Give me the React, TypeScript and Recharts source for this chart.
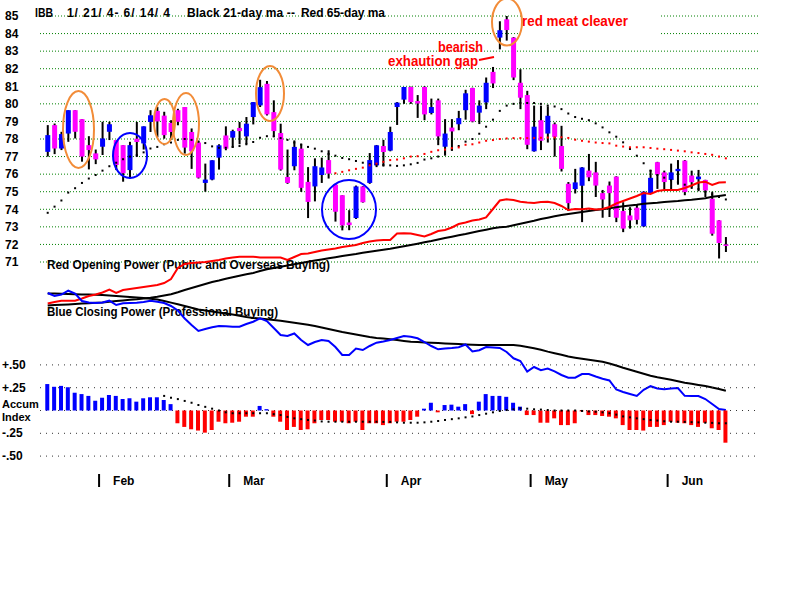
import React from "react";
import { ComposedChart, Bar, Line, XAxis, YAxis, CartesianGrid, Cell } from "recharts";

// IBB daily candles, 1/21/04 - 6/14/04
const opens = [
  77.27, 78.79, 77.46, 78.31, 79.64, 79.13, 77.65, 77.18, 77.56, 78.41,
  77.94, 77.65, 76.23, 78.02, 77.75, 78.97, 79.6, 79.33, 78.92, 79.64,
  79.82, 78.4, 77.8, 75.5, 75.69, 76.94, 78.2, 78.08, 78.63, 78.15,
  79.25, 79.91, 81.14, 79.53, 78.34, 75.84, 76.45, 77.45, 75.56, 75.3,
  75.95, 76.8, 75.4, 74.8, 73.25, 73.5, 75.3, 75.5, 76.5, 77.6,
  77.34, 79.82, 80.24, 80.96, 80.16, 80.96, 79.48, 80.2, 77.56, 78.65,
  78.84, 79.64, 80.9, 79.5, 80.08, 81.82, 83.77, 84.81, 83.77, 81.2,
  80.5, 77.3, 79.07, 78.31, 78.84, 77.6, 75.45, 75.15, 75.34, 76.2,
  76.1, 74.92, 75.35, 75.86, 73.9, 73.65, 74.09, 73.03, 74.92, 76.68,
  76.1, 75.67, 76.17, 76.77, 75.92, 75.71, 75.67, 74.6, 73.37, 72.0,
];
const highs = [
  78.79, 78.88, 78.41, 79.64, 79.64, 79.13, 78.16, 77.4, 78.98, 78.98,
  77.94, 77.65, 77.84, 78.97, 78.72, 79.64, 79.83, 79.55, 79.07, 79.72,
  79.82, 78.6, 77.9, 76.6, 76.79, 77.7, 78.72, 78.53, 78.97, 79.25,
  80.1, 81.37, 81.3, 80.2, 78.87, 77.4, 77.92, 77.73, 76.4, 76.9,
  76.94, 77.36, 75.45, 74.8, 73.95, 75.35, 75.32, 77.2, 77.66, 77.95,
  78.7, 80.1, 80.96, 80.98, 80.5, 81.0, 80.3, 80.3, 79.13, 79.13,
  79.6, 80.8, 80.92, 80.2, 81.5, 82.1, 84.7, 85.0, 83.8, 81.97,
  80.74, 79.9, 79.9, 79.85, 78.94, 78.75, 75.55, 76.3, 76.4, 77.15,
  76.7, 75.1, 75.58, 75.88, 74.4, 74.12, 74.3, 75.02, 76.24, 76.7,
  76.2, 76.6, 76.8, 76.8, 76.2, 76.24, 75.68, 75.0, 73.38, 72.42,
];
const lows = [
  77.0, 77.14, 77.37, 77.84, 78.03, 76.71, 76.27, 76.57, 77.09, 77.94,
  76.23, 75.57, 75.76, 76.98, 77.4, 78.4, 78.1, 78.02, 77.95, 78.78,
  77.17, 76.3, 75.75, 75.0, 75.65, 76.26, 77.36, 77.5, 77.7, 77.7,
  78.83, 79.82, 79.34, 78.11, 76.2, 75.45, 76.22, 74.99, 73.5, 74.45,
  75.5, 75.75, 73.3, 72.8, 72.81, 73.45, 74.38, 75.45, 76.4, 76.43,
  77.3, 78.8, 80.0, 80.0, 79.2, 79.07, 79.4, 77.65, 77.05, 77.33,
  78.5, 79.1, 78.95, 78.85, 79.7, 80.9, 83.1, 83.6, 81.35, 79.7,
  77.42, 77.28, 77.37, 77.8, 77.0, 76.15, 73.9, 74.9, 73.27, 75.6,
  74.7, 73.52, 73.56, 73.27, 72.7, 72.9, 73.14, 73.0, 74.9, 75.16,
  75.1, 75.1, 75.4, 74.8, 75.16, 75.03, 74.7, 72.5, 71.2, 71.57,
];
const closes = [
  78.22, 77.46, 78.28, 79.64, 78.41, 77.0, 77.37, 76.84, 78.03, 78.84,
  76.52, 76.05, 77.65, 77.83, 78.72, 79.35, 79.0, 78.22, 78.4, 78.98,
  77.51, 77.3, 75.8, 75.69, 76.79, 77.64, 77.45, 78.45, 78.45, 78.87,
  80.1, 80.95, 79.4, 78.45, 76.26, 75.5, 77.55, 75.22, 74.42, 76.45,
  76.38, 76.03, 73.86, 73.08, 73.1, 75.3, 74.4, 76.8, 77.64, 77.26,
  78.4, 80.07, 80.96, 80.1, 80.02, 79.4, 79.82, 78.15, 78.31, 78.43,
  79.19, 80.6, 79.0, 79.9, 81.2, 81.16, 84.19, 84.2, 81.5, 80.35,
  77.67, 78.7, 77.9, 79.32, 78.12, 76.3, 74.35, 75.53, 76.38, 75.82,
  75.35, 74.56, 74.92, 73.52, 72.9, 73.37, 73.4, 75.0, 75.79, 75.98,
  75.55, 76.1, 76.3, 74.98, 75.54, 75.86, 75.07, 72.61, 72.08, 71.96,
];

// moving averages (dotted)
const ma21 = [
  73.8, 74.15, 74.5, 74.95, 75.2, 75.5, 75.75, 75.95, 76.2, 76.45,
  76.65, 76.85, 77.0, 77.08, 77.24, 77.46, 77.55, 77.7, 77.8, 77.95,
  78.0, 77.95, 77.85, 77.77, 77.58, 77.5, 77.5, 77.55, 77.6, 77.7,
  77.83, 78.07, 78.16, 78.15, 78.05, 77.95, 77.8, 77.68, 77.55, 77.45,
  77.3, 77.15, 77.05, 76.92, 76.85, 76.75, 76.65, 76.57, 76.55, 76.52,
  76.5, 76.47, 76.5, 76.56, 76.64, 76.83, 76.9, 77.0, 77.2, 77.4,
  77.6, 77.85, 78.0, 78.3, 78.7, 79.1, 79.6, 79.9, 80.0, 80.05,
  80.05, 80.05, 80.0, 79.9, 79.85, 79.7, 79.45, 79.25, 79.15, 79.07,
  78.89, 78.66, 78.38, 78.13, 77.81, 77.43, 77.05, 76.62, 76.2, 75.95,
  75.8, 75.65, 75.54, 75.4, 75.3, 75.15, 75.0, 74.85, 74.7, 74.56,
];
const ma65 = [
  ...Array(42).fill(null),
  76.05, 76.13, 76.22, 76.3, 76.37, 76.5, 76.6, 76.7,
  76.8, 76.83, 76.9, 77.0, 77.02, 77.15, 77.27, 77.36, 77.4, 77.48,
  77.52, 77.67, 77.7, 77.8, 77.9, 77.94, 78.0, 78.03, 78.05, 78.05,
  78.05, 78.06, 78.07, 78.08, 78.09, 78.1, 78.06, 77.96, 77.9, 77.85,
  77.8, 77.77, 77.75, 77.62, 77.57, 77.53, 77.53, 77.53, 77.49, 77.45,
  77.42, 77.38, 77.34, 77.3, 77.24, 77.2, 77.15, 77.1, 77.0, 76.9,
];

// opening / closing power (index units)
const openPower = [
  116.5, 118, 119.3, 119.3, 119.3, 121.5, 124, 125.5, 127.5, 130.5,
  127, 130, 131, 132, 133, 134, 135, 137, 141, 152,
  156, 157, 157.5, 158, 159, 160, 161.5, 162.5, 163.3, 163.3,
  163.3, 162.5, 162.5, 162.5, 162.5, 160, 163, 166, 166.5, 168,
  169.5, 170.5, 171.5, 173, 174, 175, 177, 178.5, 179.5, 180,
  180, 186.5, 186.7, 186.5, 185, 183.5, 186, 189, 190, 192.5,
  196, 197.5, 199.5, 200.5, 202.5, 211, 219.5, 220.7, 220, 218.3,
  217.5, 217, 218, 218.3, 217, 214, 210, 211, 210.7, 211.5,
  210.5, 211, 213, 216.5, 219, 221.5, 224, 227, 226, 229,
  230, 230, 230, 232, 234.5, 237.5, 238.3, 235, 237.5, 237.7,
];
const openPowerMa = [
  114.4, 115, 115.3, 115.6, 116, 116.5, 116.8, 117.2, 117.5, 118.2,
  119, 119.6, 120.2, 120.7, 121.4, 122.2, 123.2, 124.5, 125.8, 127.8,
  130, 132, 134, 136, 138, 139.5, 141.2, 142.7, 144.2, 145.7,
  147, 149, 150.7, 152, 153.2, 154.5, 155.7, 157, 158.2, 159.4,
  160.5, 161.7, 162.8, 164, 165, 166, 167.2, 168.3, 169.3, 170.3,
  171.3, 172.5, 173.8, 175, 176.3, 177.7, 179, 180.5, 182, 183.3,
  184.7, 186, 187.5, 189, 190.3, 191.7, 192.7, 193.3, 194.7, 196.2,
  197.7, 199.2, 201, 202.3, 203.7, 205, 206, 207, 208, 209,
  210, 210.8, 211.8, 212.8, 213.7, 214.5, 215.3, 216.3, 216.8, 217.3,
  218, 218.5, 219, 219.8, 220.3, 221, 221.8, 223.2, 224.1, 225,
];
const closePower = [
  127, 124, 125.5, 129.3, 126.5, 119, 117.5, 117, 117.5, 119.3,
  115, 116.7, 117, 117.3, 118, 119.3, 118.3, 117, 114, 109.5,
  101.5, 95, 89, 91, 92.7, 94, 93.7, 93.3, 93.3, 96,
  98.3, 101.7, 99, 92, 85, 84, 86.5, 80, 75, 78,
  80, 79, 73, 65, 65, 71.5, 70, 74, 77.3, 78.5,
  80, 82, 84, 83.2, 81.7, 78, 74, 70.7, 71.5, 72,
  72.7, 75.5, 68.5, 69.8, 73, 72.5, 72, 68, 61.7, 59,
  48.5, 53, 49.8, 51.5, 48.7, 45, 42.3, 42.3, 46, 46,
  43.5, 41.3, 39.5, 30.5, 28, 26, 24, 30.2, 33.8, 31.5,
  30.7, 31.5, 32, 24.2, 24, 24, 21, 16, 11, 10,
];
const closePowerMa = [
  126.5, 126.4, 126.2, 126, 125.8, 125.6, 125.4, 125.2, 125, 124.6,
  124.1, 123.6, 123.1, 122.6, 122, 121.2, 120.5, 119, 117.4, 115.8,
  114, 112.2, 110.6, 109.6, 108.6, 107.6, 106.6, 105.5, 104.3, 103,
  102, 101.4, 100.8, 100.1, 99.3, 98.3, 97.3, 96.2, 95.2, 94,
  92.5, 91, 89.5, 88, 86.7, 85.4, 84.2, 83, 82, 81.4,
  80.7, 79.9, 79.1, 78.3, 77.9, 77.6, 77.3, 76.9, 76.6, 76.3,
  76, 75.6, 75.3, 75, 75, 75, 75, 75, 75, 74.2,
  73, 71.8, 70.2, 68.4, 66.8, 65.2, 63.5, 62.3, 61.2, 60.2,
  59.2, 58.2, 56.5, 54.5, 52.3, 50.3, 48.3, 46.3, 44.2, 42.7,
  41.5, 40.2, 38.8, 37.3, 36.2, 35.1, 34, 32.5, 31, 29.3,
];

// accumulation index
const accum = [
  0.29, 0.26, 0.27, 0.255, 0.195, 0.18, 0.16, 0.107, 0.14, 0.17,
  0.16, 0.126, 0.134, 0.097, 0.134, 0.145, 0.145, 0.115, 0.07, -0.14,
  -0.18, -0.206, -0.22, -0.243, -0.214, -0.123, -0.14, -0.134, -0.123, -0.068,
  -0.068, 0.05, 0.015, -0.068, -0.123, -0.214, -0.18, -0.214, -0.206, -0.14,
  -0.104, -0.104, -0.123, -0.123, -0.14, -0.123, -0.214, -0.14, -0.14, -0.16,
  -0.14, -0.123, -0.123, -0.104, -0.068, 0.02, 0.085, -0.02, 0.06, 0.064,
  0.042, 0.07, -0.04, 0.097, 0.18, 0.16, 0.16, 0.15, 0.085, 0.042,
  -0.05, -0.05, -0.134, -0.134, -0.086, -0.16, -0.16, -0.14, -0.01, -0.05,
  -0.05, -0.06, -0.068, -0.086, -0.16, -0.214, -0.214, -0.22, -0.18, -0.18,
  -0.16, -0.123, -0.134, -0.14, -0.16, -0.18, -0.134, -0.195, -0.214, -0.353,
];
const accumMa = [
  ...Array(17).fill(null),
  0.16, 0.14, 0.125,
  0.105, 0.085, 0.06, 0.04, 0.02, 0.0, -0.02, -0.03, -0.03, -0.03,
  -0.03, -0.03, -0.03, -0.04, -0.05, -0.07, -0.086, -0.095, -0.104, -0.11,
  -0.12, -0.123, -0.123, -0.123, -0.123, -0.123, -0.123, -0.123, -0.123, -0.125,
  -0.125, -0.13, -0.134, -0.134, -0.134, -0.13, -0.123, -0.115, -0.104, -0.095,
  -0.086, -0.075, -0.065, -0.05, -0.035, -0.02, -0.005, 0.005, 0.013, 0.024,
  0.02, 0.013, 0.01, 0.005, 0, 0, 0, 0, -0.005, -0.01,
  -0.013, -0.02, -0.03, -0.045, -0.065, -0.075, -0.086, -0.095, -0.105, -0.11,
  -0.118, -0.123, -0.123, -0.125, -0.128, -0.13, -0.134, -0.136, -0.14, -0.14,
];

const priceTicks = [85, 84, 83, 82, 81, 80, 79, 78, 77, 76, 75, 74, 73, 72, 71];
const accumTicks = [0.5, 0.25, 0, -0.25, -0.5];
const accumLabels = ["+.50", "+.25", "", "-.25", "-.50"];
const monthTicks = [7.5, 26.5, 49.5, 70.5, 90.5];
const monthLabels = ["Feb", "Mar", "Apr", "May", "Jun"];

const data = opens.map((open, i) => ({
  i,
  open,
  high: highs[i],
  low: lows[i],
  close: closes[i],
  ma21: ma21[i],
  ma65: ma65[i],
  openPower: openPower[i],
  openPowerMa: openPowerMa[i],
  closePower: closePower[i],
  closePowerMa: closePowerMa[i],
  accum: accum[i],
  accumMa: accumMa[i],
}));

const xDomain = [-1.124, 103.985];
const FONT = '"Liberation Sans", Arial, sans-serif';
const BLUE = "#0000ff";
const MAGENTA = "#ff00ff";
const RED = "#ff0000";
const ORANGE = "#f28c38";

const Candle = (props: any) => {
  const { x, y, width, height, payload } = props;
  if (x == null || !payload) return null;
  const top = Math.min(y, y + height);
  const h = Math.abs(height);
  const k = h / (payload.high - payload.low);
  const cx = x + width / 2;
  const yo = top + (payload.high - payload.open) * k;
  const yc = top + (payload.high - payload.close) * k;
  const up = payload.close >= payload.open;
  const bodyTop = Math.min(yo, yc);
  const bodyH = Math.max(1.5, Math.abs(yo - yc));
  return (
    <g>
      <rect x={cx - 1} y={top} width={2} height={h} fill="#000" />
      <rect x={cx - 2.5} y={bodyTop} width={5} height={bodyH} fill={up ? BLUE : MAGENTA} />
    </g>
  );
};

const squareDot = (color: string) => (props: any) => {
  const { cx, cy, index } = props;
  if (cx == null || cy == null || Number.isNaN(cy)) return <g key={`n${index}`} />;
  return <rect key={`d${index}`} x={cx - 1} y={cy - 1} width={2} height={2} fill={color} />;
};

const PriceTick = (props: any) => {
  const { y, payload } = props;
  return (
    <text x={5} y={y + 4.3} fontSize={12} fontWeight="bold" fontFamily={FONT} fill="#000">
      {payload.value}
    </text>
  );
};

const AccumTick = (props: any) => {
  const { y, payload, index } = props;
  if (payload.value === 0) {
    return (
      <g>
        <text x={2} y={y - 2.5} fontSize={11} fontWeight="bold" fontFamily={FONT} fill="#000">Accum</text>
        <text x={2} y={y + 10.5} fontSize={11} fontWeight="bold" fontFamily={FONT} fill="#000">Index</text>
      </g>
    );
  }
  return (
    <text x={2} y={y + 4} fontSize={12} fontWeight="bold" fontFamily={FONT} fill="#000">
      {accumLabels[index]}
    </text>
  );
};

const MonthTick = (props: any) => {
  const { x, payload } = props;
  const idx = monthTicks.indexOf(payload.value);
  return (
    <g>
      <line x1={x} x2={x} y1={474} y2={487} stroke="#000" strokeWidth={2} />
      <text x={x + 14} y={485} fontSize={12} fontWeight="bold" fontFamily={FONT} fill="#000">
        {monthLabels[idx]}
      </text>
    </g>
  );
};

const layer: React.CSSProperties = { position: "absolute", left: 0, top: 0 };
const txt = { fontFamily: FONT, fontWeight: "bold" as const, fontSize: 12 };

export default function App() {
  return (
    <div style={{ position: "absolute", left: 0, top: 0, width: 800, height: 600, background: "#fff" }}>
      {/* price panel */}
      <div style={layer}>
        <ComposedChart width={800} height={600} data={data} margin={{ top: 16, right: 40, bottom: 338, left: 0 }}>
          <CartesianGrid vertical={false} horizontalValues={priceTicks} stroke="#008000" strokeDasharray="1 2" />
          <XAxis dataKey="i" type="number" domain={xDomain} hide />
          <YAxis
            domain={[71, 85]}
            ticks={priceTicks}
            interval={0}
            width={40}
            axisLine={false}
            tickLine={false}
            tick={<PriceTick />}
          />
          <Bar dataKey={(d: any) => [d.low, d.high]} barSize={5} shape={<Candle />} isAnimationActive={false} />
          <Line dataKey="ma21" stroke="none" dot={squareDot("#000")} activeDot={false} isAnimationActive={false} />
          <Line dataKey="ma65" stroke="none" dot={squareDot(RED)} activeDot={false} isAnimationActive={false} />
        </ComposedChart>
      </div>

      <svg style={layer} width={800} height={600}>
        <text x={47} y={269} {...txt} textLength={283} lengthAdjust="spacingAndGlyphs">
          Red Opening Power (Public and Overseas Buying)
        </text>
        <text x={47} y={315.5} {...txt} textLength={231} lengthAdjust="spacingAndGlyphs">
          Blue Closing Power (Professional Buying)
        </text>
      </svg>

      {/* opening / closing power */}
      <div style={layer}>
        <ComposedChart width={800} height={600} data={data} margin={{ top: 180, right: 40, bottom: 180, left: 40 }}>
          <XAxis dataKey="i" type="number" domain={xDomain} hide />
          <YAxis domain={[0, 240]} hide />
          <Line dataKey="openPowerMa" stroke="#000" strokeWidth={2} dot={false} activeDot={false} isAnimationActive={false} />
          <Line dataKey="closePowerMa" stroke="#000" strokeWidth={2} dot={false} activeDot={false} isAnimationActive={false} />
          <Line dataKey="openPower" stroke={RED} strokeWidth={2} dot={false} activeDot={false} isAnimationActive={false} />
          <Line dataKey="closePower" stroke={BLUE} strokeWidth={2} dot={false} activeDot={false} isAnimationActive={false} />
        </ComposedChart>
      </div>

      {/* accumulation index */}
      <div style={layer}>
        <ComposedChart width={800} height={600} data={data} margin={{ top: 364.9, right: 40, bottom: 113.9, left: 0 }}>
          <CartesianGrid vertical={false} horizontalValues={accumTicks} stroke="#333" strokeDasharray="1 5" />
          <XAxis
            dataKey="i"
            type="number"
            domain={xDomain}
            ticks={monthTicks}
            interval={0}
            height={30}
            axisLine={false}
            tickLine={false}
            tick={<MonthTick />}
          />
          <YAxis
            domain={[-0.5, 0.5]}
            ticks={accumTicks}
            interval={0}
            width={40}
            axisLine={false}
            tickLine={false}
            tick={<AccumTick />}
          />
          <Bar dataKey="accum" barSize={4} isAnimationActive={false}>
            {data.map((d) => (
              <Cell key={d.i} fill={d.accum >= 0 ? BLUE : RED} />
            ))}
          </Bar>
          <Line dataKey="accumMa" stroke="none" dot={squareDot("#000")} activeDot={false} isAnimationActive={false} />
        </ComposedChart>
      </div>

      {/* title and annotations */}
      <svg style={layer} width={800} height={600}>
        <text x={35} y={17} {...txt} textLength={18} lengthAdjust="spacingAndGlyphs">IBB</text>
        <text x={67} y={17} {...txt} textLength={103} lengthAdjust="spacing">1/ 21/ 4- 6/ 14/ 4</text>
        <text x={187} y={17} {...txt} textLength={108} lengthAdjust="spacing">Black 21-day ma --</text>
        <text x={301} y={17} {...txt} textLength={84} lengthAdjust="spacing">Red 65-day ma</text>

        <rect x={523} y={3} width={138} height={37} fill="#fff" />
        <text x={522} y={26} fontFamily={FONT} fontWeight="bold" fontSize={14} fill={RED} textLength={106} lengthAdjust="spacingAndGlyphs">
          red meat cleaver
        </text>
        <text x={438} y={51.5} fontFamily={FONT} fontWeight="bold" fontSize={14} fill={RED} textLength={45} lengthAdjust="spacingAndGlyphs">
          bearish
        </text>
        <text x={388} y={66} fontFamily={FONT} fontWeight="bold" fontSize={14} fill={RED} textLength={90} lengthAdjust="spacingAndGlyphs">
          exhaution gap
        </text>
        <line x1={479} y1={60} x2={494} y2={57} stroke={RED} strokeWidth={2} />

        <g fill="none" strokeWidth={2}>
          <ellipse cx={78.5} cy={129.5} rx={15.5} ry={38.5} stroke={ORANGE} />
          <ellipse cx={164.5} cy={121.5} rx={10.5} ry={22.5} stroke={ORANGE} />
          <ellipse cx={186} cy={124} rx={13} ry={31} stroke={ORANGE} />
          <ellipse cx={270} cy={93.5} rx={14} ry={27.5} stroke={ORANGE} />
          <ellipse cx={507} cy={22} rx={15} ry={23.5} stroke={ORANGE} />
          <ellipse cx={130} cy={155.5} rx={17} ry={22.5} stroke={BLUE} />
          <ellipse cx={349} cy={209.5} rx={27} ry={29.5} stroke={BLUE} />
        </g>
      </svg>
    </div>
  );
}
